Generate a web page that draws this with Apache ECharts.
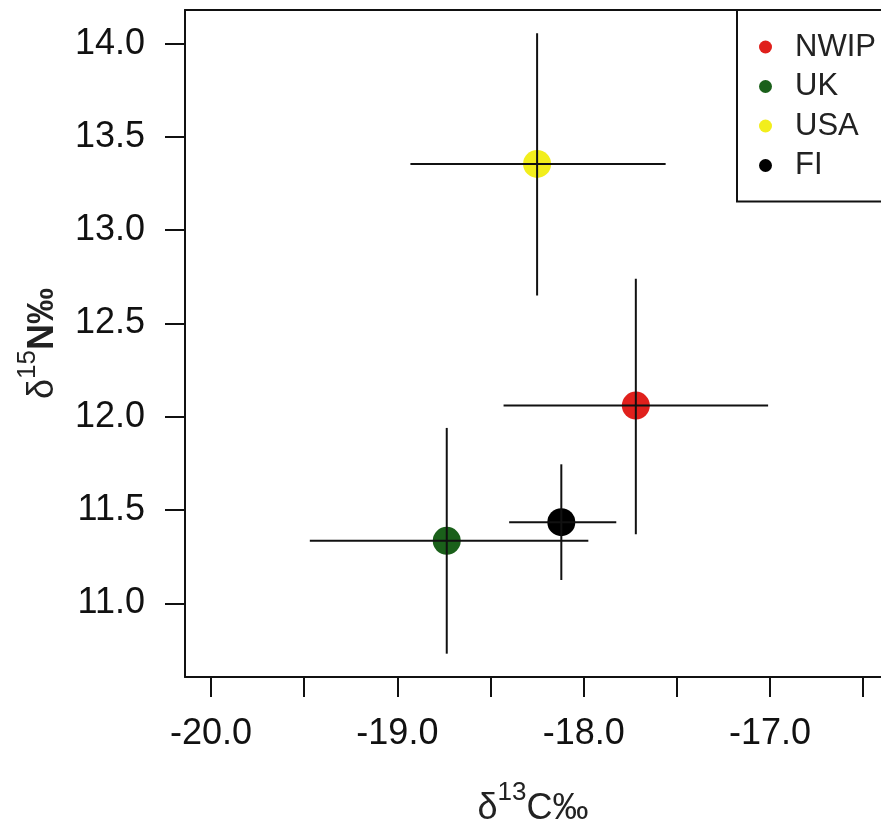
<!DOCTYPE html>
<html>
<head>
<meta charset="utf-8">
<script src="https://cdn.jsdelivr.net/npm/echarts@6/dist/echarts.min.js"></script>
<style>
html,body{margin:0;padding:0;background:#fff;}
#chart{width:881px;height:831px;}
</style>
</head>
<body>
<div id="chart"></div>
<script>
// ---- data ----
var groups   = ['NWIP', 'UK', 'USA', 'FI'];
var colors   = ['#e0201c', '#1a601a', '#f2ee1c', '#000000'];
var meanC    = [-17.72, -18.735, -18.25, -18.12];   // δ13C mean
var meanN    = [12.06, 11.335, 13.355, 11.435];     // δ15N mean
var lowC     = [-18.43, -19.47, -18.93, -18.40];
var highC    = [-17.01, -17.975, -17.56, -17.825];
var lowN     = [11.37, 10.73, 12.65, 11.125];
var highN    = [12.74, 11.94, 14.055, 11.745];
var xTicks   = [-20, -19.5, -19, -18.5, -18, -17.5, -17, -16.5];
var xLabels  = [-20, -19, -18, -17];
var yTicks   = [11, 11.5, 12, 12.5, 13, 13.5, 14];

var FONT = "'Liberation Sans', Arial, sans-serif";
var chart = echarts.init(document.getElementById('chart'), null, {renderer: 'canvas'});

var series = [];
groups.forEach(function (g, i) {
  series.push({
    name: g,
    type: 'scatter',
    symbol: 'circle',
    symbolSize: 28,
    z: 2,
    itemStyle: {color: colors[i], opacity: 1},
    emphasis: {disabled: true},
    data: [[meanC[i], meanN[i]]]
  });
});

var errData = groups.map(function (g, i) {
  return [meanC[i], meanN[i], lowC[i], highC[i], lowN[i], highN[i]];
});

series.push({
  type: 'custom',
  name: 'err',
  z: 5,
  silent: true,
  encode: {x: 0, y: 1},
  data: errData,
  renderItem: function (params, api) {
    var cx = api.value(0), cy = api.value(1);
    var xl = api.coord([api.value(2), cy]);
    var xh = api.coord([api.value(3), cy]);
    var yl = api.coord([cx, api.value(4)]);
    var yh = api.coord([cx, api.value(5)]);
    var st = {stroke: '#111', lineWidth: 2};
    return {
      type: 'group',
      children: [
        {type: 'line', shape: {x1: xl[0], y1: xl[1], x2: xh[0], y2: xh[1]}, style: st},
        {type: 'line', shape: {x1: yl[0], y1: yl[1], x2: yh[0], y2: yh[1]}, style: st}
      ]
    };
  }
});

var XMIN = -20.14, XMAX = -16.404;
var option = {
  backgroundColor: '#ffffff',
  animation: false,
  textStyle: {fontFamily: FONT},
  grid: {
    left: 185, top: 10, right: 0, bottom: 154,
    outerBoundsMode: 'none',
    containLabel: false,
    show: false
  },
  legend: {
    data: groups,
    orient: 'vertical',
    left: 737, top: 10,
    icon: 'circle',
    itemWidth: 13, itemHeight: 13,
    itemGap: 7.5,
    padding: [21, 40, 20, 22],
    borderColor: '#111', borderWidth: 2,
    backgroundColor: '#fff',
    selectedMode: false,
    textStyle: {fontFamily: FONT, fontSize: 31, lineHeight: 32, color: '#222', padding: [0, 0, 0, 18]}
  },
  xAxis: [{
    type: 'value',
    min: XMIN, max: XMAX,
    splitLine: {show: false},
    axisLine: {show: true, onZero: false, lineStyle: {color: '#111', width: 2}},
    axisTick: {show: true, customValues: xTicks, length: 20, lineStyle: {color: '#111', width: 2}},
    axisLabel: {
      customValues: xLabels, margin: 39, fontSize: 36, color: '#111', fontFamily: FONT,
      formatter: function (v) { return v.toFixed(1); }
    },
    name: '{d|δ}{s|13}{c|C‰}',
    nameLocation: 'middle',
    nameGap: 110,
    nameMoveOverlap: false,
    nameTextStyle: {
      fontFamily: FONT, color: '#222',
      rich: {
        d: {fontSize: 36, lineHeight: 44, fontFamily: FONT, color: '#222'},
        s: {fontSize: 26, lineHeight: 12, padding: [0, 0, 32, 0], fontFamily: FONT, color: '#222'},
        c: {fontSize: 36, lineHeight: 44, fontFamily: FONT, color: '#222'}
      }
    }
  }, {
    type: 'value',
    position: 'top',
    min: XMIN, max: XMAX,
    splitLine: {show: false},
    axisLine: {show: true, onZero: false, lineStyle: {color: '#111', width: 2}},
    axisTick: {show: false},
    axisLabel: {show: false}
  }],
  yAxis: {
    type: 'value',
    min: 10.605, max: 14.18,
    splitLine: {show: false},
    axisLine: {show: true, onZero: false, lineStyle: {color: '#111', width: 2}},
    axisTick: {show: true, customValues: yTicks, length: 20, lineStyle: {color: '#111', width: 2}},
    axisLabel: {
      customValues: yTicks, margin: 40, fontSize: 36, color: '#111', fontFamily: FONT,
      formatter: function (v) { return v.toFixed(1); }
    },
    name: '{d|δ}{s|15}{c|N‰}',
    nameLocation: 'middle',
    nameGap: 122,
    nameMoveOverlap: false,
    nameTextStyle: {
      fontFamily: FONT, color: '#222',
      rich: {
        d: {fontSize: 36, lineHeight: 40, fontFamily: FONT, color: '#222'},
        s: {fontSize: 26, lineHeight: 10, padding: [0, 0, 30, 0], fontFamily: FONT, color: '#222'},
        c: {fontSize: 36, lineHeight: 40, fontWeight: 'bold', fontFamily: FONT, color: '#222'}
      }
    }
  },
  series: series
};
chart.setOption(option);
</script>
</body>
</html>
